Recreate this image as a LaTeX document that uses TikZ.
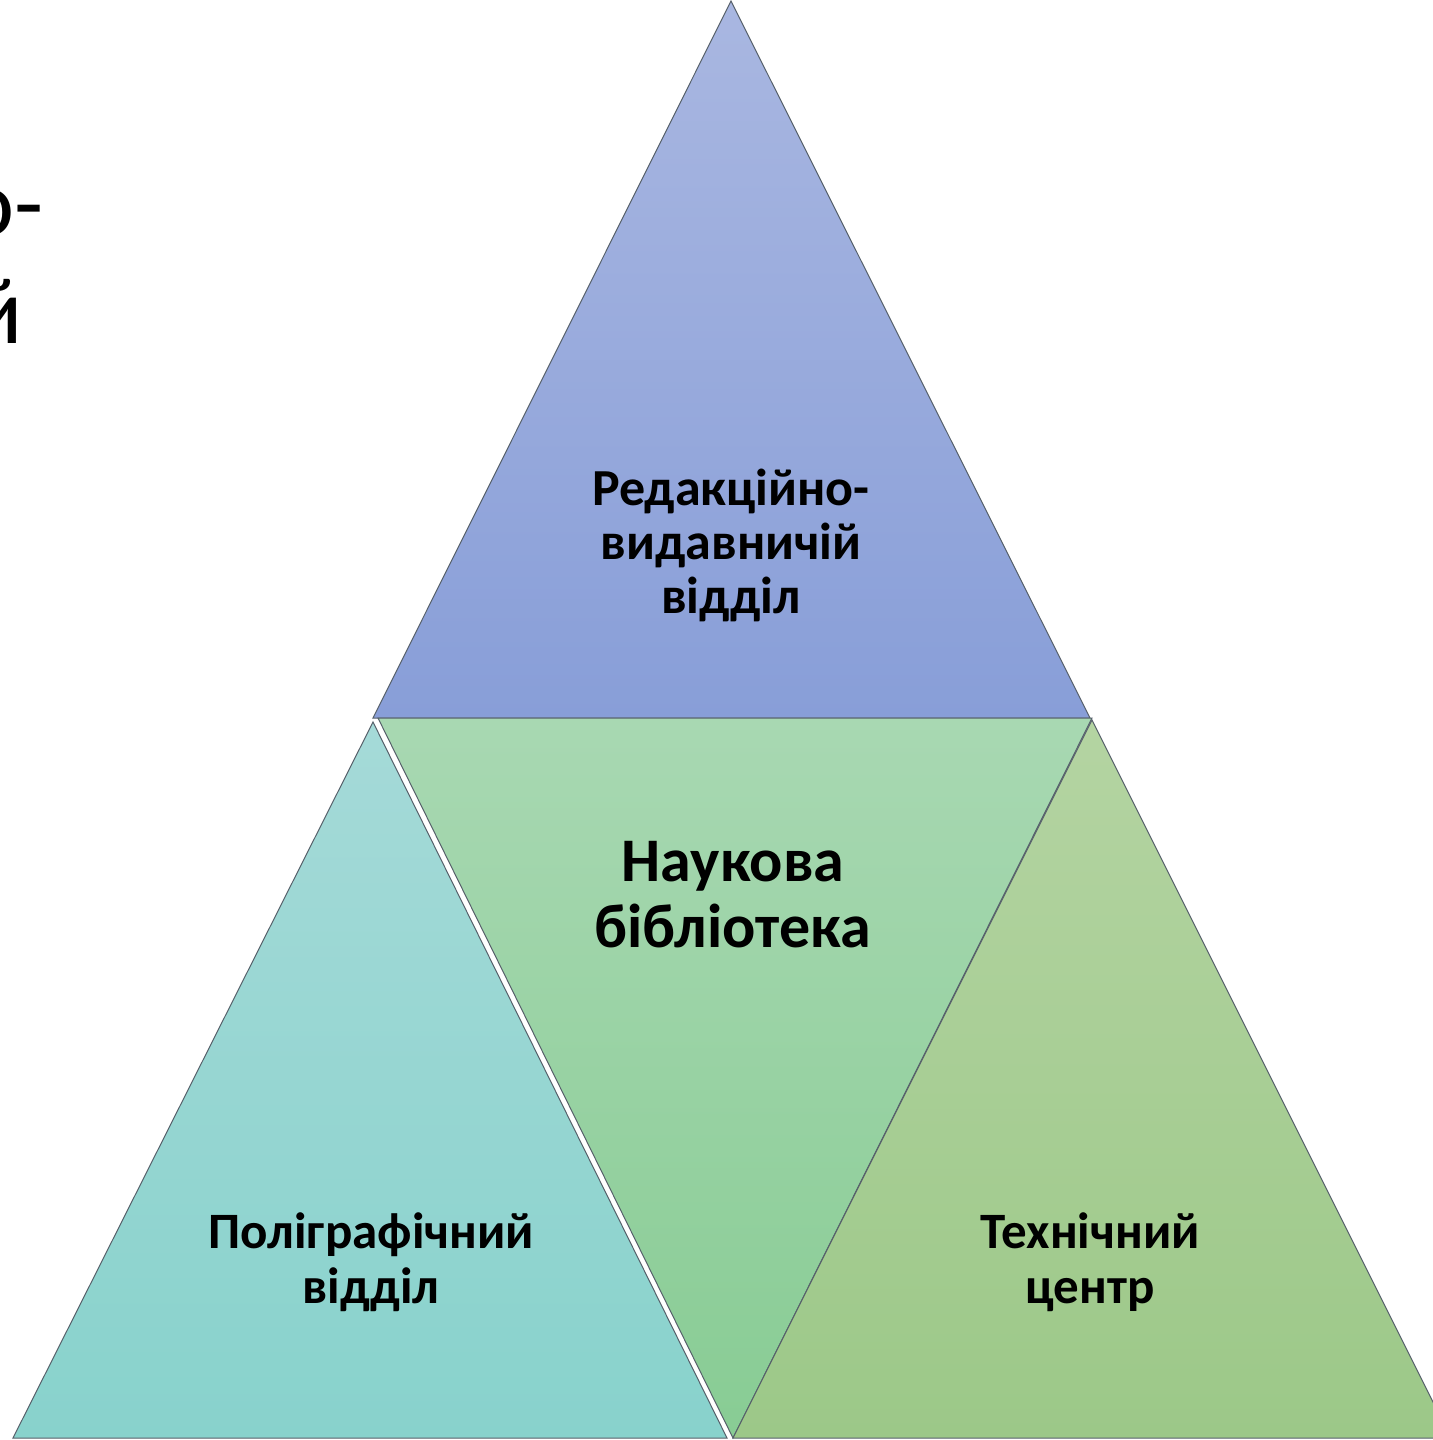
\documentclass[tikz,border=0pt]{standalone}
\usepackage{fontspec}
\setmainfont{Carlito}
\usepackage{tikz}

\definecolor{redtop}{HTML}{A9B7E1}
\definecolor{redbot}{HTML}{889ED8}
\definecolor{libtop}{HTML}{A8D8B2}
\definecolor{libbot}{HTML}{88CC94}
\definecolor{polytop}{HTML}{A5DAD8}
\definecolor{polybot}{HTML}{88D2CC}
\definecolor{techtop}{HTML}{B4D4A2}
\definecolor{techbot}{HTML}{9CC888}
\definecolor{edge}{HTML}{56606A}

\begin{document}
\begin{tikzpicture}[x=1pt,y=-1pt]
	\useasboundingbox (0,0) rectangle (1432,1440);
	\fill [white] (0,0) rectangle (1432,1440);
	\shadedraw [top color=redtop, bottom color=redbot, draw=edge, line width=1pt] (731,1) -- (373,718) -- (1090,718) -- cycle;
	\shadedraw [top color=libtop, bottom color=libbot, draw=edge, line width=1pt] (378,718) -- (1092,718) -- (733,1438) -- cycle;
	\shadedraw [top color=polytop, bottom color=polybot, draw=edge, line width=1pt] (373,722) -- (13,1438) -- (727,1438) -- cycle;
	\shadedraw [top color=techtop, bottom color=techbot, draw=edge, line width=1pt] (1092,720) -- (733,1438) -- (1451,1438) -- cycle;
	\path (731,545) node[align=center, font=\bfseries\fontsize{52}{54}\selectfont] (redaction) {Редакційно-\\видавничій\\відділ};
	\path (733,895) node[align=center, font=\bfseries\fontsize{62}{66}\selectfont] (library) {Наукова\\бібліотека};
	\path (371,1262) node[align=center, font=\bfseries\fontsize{51}{55}\selectfont] (printing) {Поліграфічний\\відділ};
	\path (1090,1262) node[align=center, font=\bfseries\fontsize{51}{55}\selectfont] (techcentre) {Технічний\\центр};
	% cut-off text at the left edge
	\path (44,235) node[anchor=base east, inner sep=0pt, font=\fontsize{95}{108}\selectfont] (cutone) {о-};
	\path (23,343) node[anchor=base east, inner sep=0pt, font=\fontsize{95}{108}\selectfont] (cuttwo) {й};
\end{tikzpicture}
\end{document}
